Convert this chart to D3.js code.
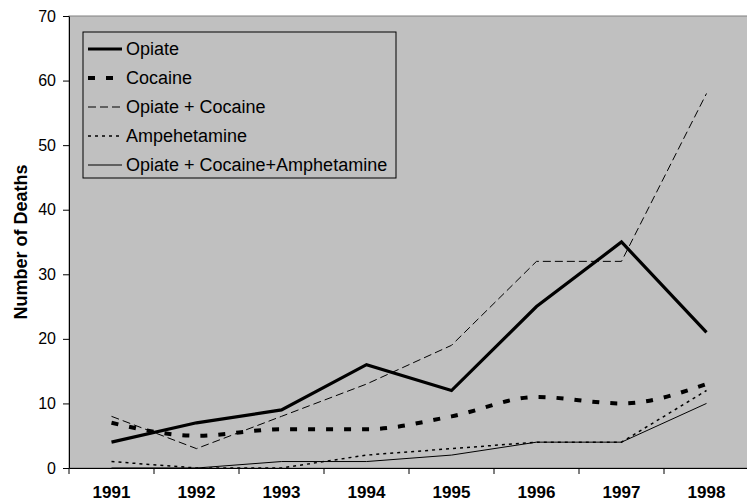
<!DOCTYPE html>
<html>
<head>
<meta charset="utf-8">
<script src="https://cdn.jsdelivr.net/npm/d3@7"></script>
<style>
  body { margin: 0; background: #fff; }
  svg { display: block; font-family: "Liberation Sans", Arial, sans-serif; }
</style>
</head>
<body>
<svg id="chart" width="747" height="503"></svg>
<script>
const years = ["1991", "1992", "1993", "1994", "1995", "1996", "1997", "1998"];
const opiate = [4, 7, 9, 16, 12, 25, 35, 21];
const cocaine = [7, 5, 6, 6, 8, 11, 10, 13];
const opiateCocaine = [8, 3, 8, 13, 19, 32, 32, 58];
const amphetamine = [1, 0, 0, 2, 3, 4, 4, 12];
const allThree = [0, 0, 1, 1, 2, 4, 4, 10];
const yTicks = [0, 10, 20, 30, 40, 50, 60, 70];

const series = [
  { name: "Opiate", values: opiate, width: 3.2, dash: null, curve: d3.curveLinear },
  { name: "Cocaine", values: cocaine, width: 4, dash: "7,11", curve: d3.curveMonotoneX },
  { name: "Opiate + Cocaine", values: opiateCocaine, width: 1, dash: "8,4", curve: d3.curveLinear },
  { name: "Ampehetamine", values: amphetamine, width: 1.5, dash: "3,4", curve: d3.curveLinear },
  { name: "Opiate + Cocaine+Amphetamine", values: allThree, width: 1, dash: null, curve: d3.curveLinear }
];

const svg = d3.select("#chart");
const margin = { top: 16, right: -2, bottom: 35, left: 69 };
const width = +svg.attr("width");
const height = +svg.attr("height");

const x = d3.scaleBand()
  .domain(years)
  .range([margin.left, width - margin.right]);

const y = d3.scaleLinear()
  .domain([0, 70])
  .range([height - margin.bottom, margin.top]);

// plot background
svg.append("rect")
  .attr("x", margin.left)
  .attr("y", margin.top)
  .attr("width", width - margin.right - margin.left)
  .attr("height", y(0) - margin.top)
  .attr("fill", "#c0c0c0")
  .attr("stroke", "#808080")
  .attr("stroke-width", 1);

// lines
series.forEach(s => {
  const line = d3.line()
    .x((d, i) => x(years[i]) + x.bandwidth() / 2)
    .y(d => y(d))
    .curve(s.curve);
  svg.append("path")
    .datum(s.values)
    .attr("d", line)
    .attr("fill", "none")
    .attr("stroke", "#000")
    .attr("stroke-width", s.width)
    .attr("stroke-dasharray", s.dash);
});

// x axis
const xAxis = svg.append("g")
  .attr("transform", `translate(0,${y(0)})`)
  .call(d3.axisBottom(x).tickSize(0).tickPadding(18));
xAxis.select(".domain").attr("stroke", "#000");
xAxis.selectAll("text")
  .attr("font-size", 17)
  .attr("font-weight", "bold")
  .attr("font-family", "Liberation Sans, Arial, sans-serif")
  .attr("fill", "#000");
xAxis.selectAll(".bound")
  .data(years.map(d => x(d)).concat([x(years[years.length - 1]) + x.bandwidth()]))
  .enter()
  .append("line")
  .attr("class", "bound")
  .attr("x1", d => d).attr("x2", d => d)
  .attr("y1", 0).attr("y2", 6)
  .attr("stroke", "#000");

// y axis
const yAxis = svg.append("g")
  .attr("transform", `translate(${margin.left},0)`)
  .call(d3.axisLeft(y).tickValues(yTicks).tickSize(6).tickPadding(7).tickSizeOuter(0));
yAxis.select(".domain").attr("stroke", "#000");
yAxis.selectAll(".tick line").attr("stroke", "#000");
yAxis.selectAll("text")
  .attr("font-size", 16)
  .attr("font-family", "Liberation Sans, Arial, sans-serif")
  .attr("fill", "#000");

svg.append("text")
  .attr("transform", `translate(27,${(margin.top + y(0)) / 2}) rotate(-90)`)
  .attr("text-anchor", "middle")
  .attr("font-size", 18)
  .attr("font-weight", "bold")
  .text("Number of Deaths");

// legend
const legend = svg.append("g").attr("transform", "translate(83,32)");
legend.append("rect")
  .attr("width", 313)
  .attr("height", 146)
  .attr("fill", "#c0c0c0")
  .attr("stroke", "#000");
series.forEach((s, i) => {
  const g = legend.append("g").attr("transform", `translate(0,${17 + i * 29})`);
  g.append("line")
    .attr("x1", 5).attr("x2", 39)
    .attr("stroke", "#000")
    .attr("stroke-width", s.width)
    .attr("stroke-dasharray", s.dash);
  g.append("text")
    .attr("x", 43)
    .attr("dy", "0.35em")
    .attr("font-size", 18)
    .text(s.name);
});
</script>
</body>
</html>
